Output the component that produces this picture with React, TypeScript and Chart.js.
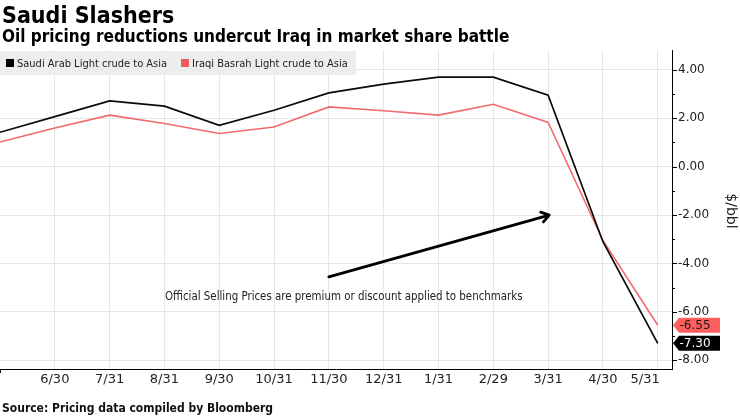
import { useEffect, useRef } from 'react';
import { Chart, registerables } from 'chart.js';

Chart.register(...registerables);

// Month-end pricing dates; the first point sits on the left edge of the plot
const dates = ['5/31', '6/30', '7/31', '8/31', '9/30', '10/31', '11/30', '12/31', '1/31', '2/29', '3/31', '4/30', '5/31'];
// Official selling prices, $/bbl premium (+) or discount (-) to benchmark
const saudiArabLight = [1.42, 2.07, 2.72, 2.5, 1.71, 2.33, 3.05, 3.41, 3.7, 3.7, 2.95, -3.1, -7.3];
const iraqiBasrahLight = [1.02, 1.6, 2.13, 1.78, 1.37, 1.64, 2.47, 2.31, 2.13, 2.58, 1.83, -3.05, -6.55];
const seriesNames = ['Saudi Arab Light crude to Asia', 'Iraqi Basrah Light crude to Asia'];
const seriesColors = ['#0a0a0a', '#f26a6e'];
const tagColors = ['#000000', '#ff5f5f'];
const tagTextColors = ['#ffffff', '#1a1a1a'];

const title = 'Saudi Slashers';
const subtitle = 'Oil pricing reductions undercut Iraq in market share battle';
const source = 'Source: Pricing data compiled by Bloomberg';
const note = 'Official Selling Prices are premium or discount applied to benchmarks';
const yAxisTitle = '$/bbl';

const COND = '"DejaVu Sans Condensed", "DejaVu Sans", sans-serif';
const SANS = '"DejaVu Sans", sans-serif';

const decorPlugin = {
  id: 'decor',
  afterDraw(chart: any) {
    const ctx: CanvasRenderingContext2D = chart.ctx;
    const xs = chart.scales.x;
    const ys = chart.scales.y;
    const area = chart.chartArea;
    ctx.save();

    // headline and subtitle
    ctx.fillStyle = '#000';
    ctx.textAlign = 'left';
    ctx.textBaseline = 'alphabetic';
    ctx.font = `bold 23px ${COND}`;
    ctx.fillText(title, 2, 23);
    ctx.font = `bold 17px ${COND}`;
    ctx.fillText(subtitle, 2, 42);

    // legend strip
    ctx.fillStyle = '#ededed';
    ctx.fillRect(0, 51, 356, 24);
    ctx.font = `11px ${COND}`;
    const legendX = [6, 181];
    seriesNames.forEach((name, i) => {
      ctx.fillStyle = i === 0 ? '#000' : '#ec5a60';
      ctx.fillRect(legendX[i], 59, 8, 8);
      ctx.fillStyle = '#222';
      ctx.fillText(name, legendX[i] + 11, 67);
    });

    // x labels, the last one kept inside the final gridline
    ctx.font = `13px ${SANS}`;
    ctx.fillStyle = '#222';
    for (let i = 1; i < dates.length; i++) {
      const px = xs.getPixelForValue(i);
      const last = i === dates.length - 1;
      ctx.textAlign = last ? 'right' : 'center';
      ctx.fillText(dates[i], last ? px + 2 : px, 383);
    }
    // small mark at the left end of the x axis
    ctx.strokeStyle = '#000';
    ctx.lineWidth = 1;
    ctx.beginPath();
    ctx.moveTo(0.5, area.bottom);
    ctx.lineTo(0.5, area.bottom + 4);
    ctx.stroke();

    // y ticks: major at even values, minor in between
    for (let v = -8; v <= 4; v++) {
      const py = Math.round(ys.getPixelForValue(v)) + 0.5;
      const len = v % 2 === 0 ? 5 : 3;
      ctx.beginPath();
      ctx.moveTo(area.right, py);
      ctx.lineTo(area.right + len, py);
      ctx.stroke();
    }

    // vertical axis title
    ctx.save();
    ctx.translate(731, 211);
    ctx.rotate(Math.PI / 2);
    ctx.font = `14px ${SANS}`;
    ctx.fillStyle = '#222';
    ctx.textAlign = 'center';
    ctx.textBaseline = 'middle';
    ctx.fillText(yAxisTitle, 0, 0);
    ctx.restore();

    // annotation arrow and note
    const ax0 = xs.getPixelForValue(6);
    const ay0 = ys.getPixelForValue(-4.55);
    const ax1 = xs.getPixelForValue(10.02);
    const ay1 = ys.getPixelForValue(-2.0);
    ctx.strokeStyle = '#000';
    ctx.lineWidth = 2.8;
    ctx.lineCap = 'round';
    ctx.lineJoin = 'round';
    ctx.beginPath();
    ctx.moveTo(ax0, ay0);
    ctx.lineTo(ax1, ay1);
    const ang = Math.atan2(ay1 - ay0, ax1 - ax0);
    const head = 9;
    ctx.moveTo(ax1 - head * Math.cos(ang - 0.6), ay1 - head * Math.sin(ang - 0.6));
    ctx.lineTo(ax1, ay1);
    ctx.lineTo(ax1 - head * Math.cos(ang + 0.6), ay1 - head * Math.sin(ang + 0.6));
    ctx.stroke();

    ctx.font = `11.4px ${COND}`;
    ctx.fillStyle = '#222';
    ctx.textAlign = 'left';
    ctx.textBaseline = 'alphabetic';
    ctx.fillText(note, xs.getPixelForValue(3.01), ys.getPixelForValue(-5.52));

    // last-value tags on the axis
    const lasts = [saudiArabLight[saudiArabLight.length - 1], iraqiBasrahLight[iraqiBasrahLight.length - 1]];
    ctx.font = `12px ${SANS}`;
    lasts.forEach((v, i) => {
      const py = ys.getPixelForValue(v);
      const x = area.right + 1;
      const h = 15;
      ctx.fillStyle = tagColors[i];
      ctx.beginPath();
      ctx.moveTo(x, py);
      ctx.lineTo(x + 6, py - h / 2);
      ctx.lineTo(720, py - h / 2);
      ctx.lineTo(720, py + h / 2);
      ctx.lineTo(x + 6, py + h / 2);
      ctx.closePath();
      ctx.fill();
      ctx.fillStyle = tagTextColors[i];
      ctx.textAlign = 'center';
      ctx.textBaseline = 'middle';
      ctx.fillText(v.toFixed(2), 695, py + 0.5);
    });

    // source line
    ctx.font = `bold 12px ${COND}`;
    ctx.fillStyle = '#111';
    ctx.textAlign = 'left';
    ctx.textBaseline = 'alphabetic';
    ctx.fillText(source, 2, 412);

    ctx.restore();
  },
};

export default function App() {
  const canvasRef = useRef<HTMLCanvasElement | null>(null);

  useEffect(() => {
    const canvas = canvasRef.current;
    if (!canvas) return;
    const chart = new Chart(canvas, {
      type: 'line',
      data: {
        datasets: [
          {
            label: seriesNames[0],
            data: saudiArabLight.map((v, i) => ({ x: i, y: v })),
            borderColor: seriesColors[0],
            borderWidth: 1.7,
            pointRadius: 0,
            tension: 0,
            order: 1,
          },
          {
            label: seriesNames[1],
            data: iraqiBasrahLight.map((v, i) => ({ x: i, y: v })),
            borderColor: seriesColors[1],
            borderWidth: 1.6,
            pointRadius: 0,
            tension: 0,
            order: 2,
          },
        ],
      },
      options: {
        animation: false,
        responsive: false,
        devicePixelRatio: 1,
        layout: { padding: { top: 50, left: 0, right: 0, bottom: 0 } },
        plugins: {
          legend: { display: false },
          title: { display: false },
          tooltip: { enabled: false },
        },
        scales: {
          x: {
            type: 'linear',
            min: 0,
            max: 12.26,
            afterFit: (scale: any) => {
              scale.height = 47;
            },
            ticks: { display: false, stepSize: 1, includeBounds: false },
            grid: {
              drawTicks: false,
              color: (c: any) => (Number.isInteger(c.tick?.value) && c.tick.value > 0 ? '#e6e6e6' : 'rgba(0,0,0,0)'),
              lineWidth: 1,
            },
            border: { display: true, color: '#000', width: 1 },
          },
          y: {
            type: 'linear',
            position: 'right',
            min: -8.36,
            max: 4.82,
            afterFit: (scale: any) => {
              scale.width = 68;
            },
            ticks: {
              stepSize: 1,
              includeBounds: false,
              autoSkip: false,
              padding: 6,
              color: '#222',
              font: { family: SANS, size: 12 },
              callback: (v: any) => (Number.isInteger(v) && v % 2 === 0 ? Number(v).toFixed(2) : ''),
            },
            grid: {
              drawTicks: false,
              color: (c: any) =>
                Number.isInteger(c.tick?.value) && c.tick.value % 2 === 0 ? '#e6e6e6' : 'rgba(0,0,0,0)',
              lineWidth: 1,
            },
            border: { display: true, color: '#000', width: 1 },
          },
        },
      },
      plugins: [decorPlugin],
    });
    return () => chart.destroy();
  }, []);

  return (
    <div style={{ position: 'fixed', left: 0, top: 0, width: 740, height: 416, background: '#fff' }}>
      <canvas ref={canvasRef} width={740} height={416} style={{ display: 'block' }} />
    </div>
  );
}
